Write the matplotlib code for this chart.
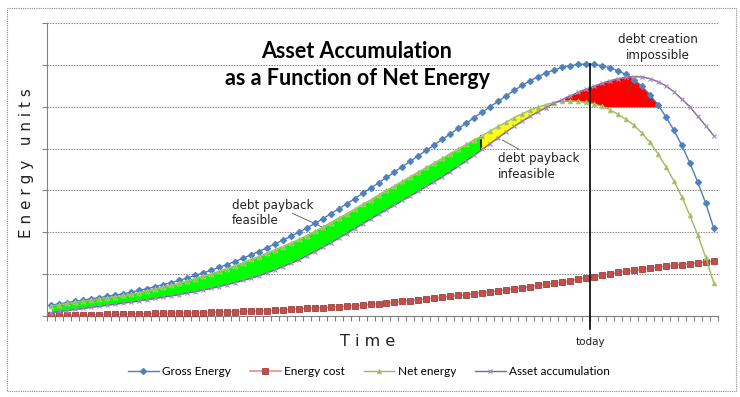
import matplotlib.pyplot as plt
import numpy as np
from matplotlib.patches import Rectangle

# values, in "energy units" (one grid step = 10)
gross_energy = [2.6, 2.9, 3.2, 3.5, 3.8, 4.1, 4.4, 4.7, 5.0, 5.3,
                5.7, 6.1, 6.5, 7.0, 7.5, 8.0, 8.5, 9.1, 9.7, 10.3,
                10.9, 11.6, 12.3, 13.0, 13.8, 14.6, 15.4, 16.3, 17.2, 18.1,
                19.0, 20.0, 21.0, 22.1, 23.2, 24.4, 25.6, 26.8, 28.0, 29.3,
                30.5, 31.8, 33.1, 34.4, 35.7, 37.0, 38.3, 39.6, 40.9, 42.2,
                43.5, 44.8, 46.1, 47.4, 48.7, 50.0, 51.3, 52.6, 53.9, 55.1,
                56.2, 57.2, 58.1, 58.8, 59.4, 59.8, 60.1, 60.2, 60.1, 59.8,
                59.3, 58.6, 57.7, 56.5, 54.9, 52.9, 50.5, 47.6, 44.4, 40.8,
                36.6, 32.0, 26.9, 21.0]
energy_cost = [0.2, 0.2, 0.2, 0.2, 0.2, 0.3, 0.3, 0.4, 0.4, 0.4,
               0.5, 0.5, 0.5, 0.6, 0.6, 0.7, 0.7, 0.7, 0.8, 0.8,
               0.9, 0.9, 1.0, 1.0, 1.1, 1.1, 1.2, 1.3, 1.4, 1.5,
               1.6, 1.7, 1.8, 1.9, 2.0, 2.1, 2.2, 2.4, 2.5, 2.6,
               2.8, 2.9, 3.1, 3.3, 3.5, 3.7, 3.9, 4.1, 4.3, 4.5,
               4.7, 4.9, 5.1, 5.3, 5.6, 5.8, 6.0, 6.3, 6.5, 6.8,
               7.0, 7.3, 7.6, 7.8, 8.1, 8.4, 8.8, 9.1, 9.4, 9.7,
               10.0, 10.4, 10.7, 10.9, 11.2, 11.4, 11.7, 11.9, 12.1, 12.3,
               12.5, 12.7, 12.9, 13.1]
net_energy = [2.4, 2.7, 3.0, 3.3, 3.6, 3.8, 4.1, 4.3, 4.6, 4.9,
              5.2, 5.6, 6.0, 6.4, 6.9, 7.3, 7.8, 8.4, 8.9, 9.5,
              10.0, 10.7, 11.3, 12.0, 12.7, 13.5, 14.2, 15.0, 15.8, 16.6,
              17.4, 18.3, 19.2, 20.2, 21.2, 22.3, 23.4, 24.4, 25.5, 26.7,
              27.7, 28.9, 30.0, 31.1, 32.2, 33.3, 34.4, 35.5, 36.6, 37.7,
              38.8, 39.9, 41.0, 42.1, 43.1, 44.2, 45.3, 46.3, 47.4, 48.3,
              49.2, 49.9, 50.5, 51.0, 51.3, 51.4, 51.3, 51.1, 50.7, 50.1,
              49.3, 48.2, 47.0, 45.6, 43.7, 41.5, 38.8, 35.7, 32.3, 28.5,
              24.1, 19.3, 14.0, 7.9]
asset_accumulation = [0.8, 1.1, 1.3, 1.6, 1.8, 2.1, 2.3, 2.6, 2.8, 3.1,
                      3.3, 3.6, 3.9, 4.2, 4.5, 4.8, 5.1, 5.5, 5.8, 6.2,
                      6.6, 7.0, 7.5, 8.0, 8.5, 9.0, 9.6, 10.3, 11.0, 11.8,
                      12.6, 13.4, 14.4, 15.4, 16.4, 17.5, 18.6, 19.7, 20.9, 22.0,
                      23.2, 24.3, 25.4, 26.5, 27.6, 28.7, 29.8, 31.0, 32.1, 33.3,
                      34.5, 35.8, 37.1, 38.4, 39.8, 41.2, 42.6, 44.0, 45.3, 46.5,
                      47.7, 48.8, 49.8, 50.8, 51.7, 52.6, 53.4, 54.2, 54.9, 55.6,
                      56.2, 56.7, 57.0, 57.2, 57.1, 56.7, 56.0, 55.0, 53.6, 51.8,
                      50.0, 47.7, 45.5, 43.1]

SERIES = ["Gross Energy", "Energy cost", "Net energy", "Asset accumulation"]

TODAY = 67.5          # category boundary where the "today" line sits
PAYBACK_LIMIT = 53.85 # black divider between green and yellow
RED_START = 64.3
RED_FLOOR = 50

GRID = "#808080"
TXT = "#222222"

x = np.arange(len(gross_energy))
gross = np.array(gross_energy)
cost = np.array(energy_cost)
net = np.array(net_energy)
asset = np.array(asset_accumulation)

fig = plt.figure(figsize=(7.4, 3.97), dpi=100)
ax = fig.add_axes([47.3 / 740, 1 - 316 / 397, 670.4 / 740, 293 / 397])

# outer chart border
fig.patches.append(Rectangle((7 / 740, 1 - 391 / 397), 728.5 / 740, 383 / 397,
                             transform=fig.transFigure, fill=False,
                             edgecolor="#8c8c8c", linewidth=0.8,
                             linestyle=(0, (1, 1))))

# shaded regions (fine grid only for drawing the fills)
xf = np.linspace(0, x[-1], 3000)
netf = np.interp(xf, x, net)
assetf = np.interp(xf, x, asset)
grossf = np.interp(xf, x, gross)

ax.fill_between(xf, assetf, netf, where=xf <= PAYBACK_LIMIT,
                color="#00ff00", linewidth=0, zorder=2)
ax.fill_between(xf, assetf, netf, where=(xf >= PAYBACK_LIMIT) & (netf >= assetf),
                color="#ffff00", linewidth=0, zorder=2)
lower = np.maximum(netf, RED_FLOOR)
upper = np.minimum(assetf, grossf)
ax.fill_between(xf, lower, upper, where=(xf >= RED_START) & (upper > lower),
                color="#ff0000", linewidth=0, zorder=2)

ax.plot([PAYBACK_LIMIT] * 2,
        [np.interp(PAYBACK_LIMIT, x, asset), np.interp(PAYBACK_LIMIT, x, net)],
        color="black", linewidth=1.2, zorder=3)

ax.plot(x, gross, color="#4a7ebb", linewidth=1, marker="D", markersize=3,
        markerfacecolor="#4f81bd", markeredgecolor="#4f81bd", label=SERIES[0], zorder=4)
ax.plot(x, cost, color="#e0908e", linewidth=1.2, marker="s", markersize=4.5,
        markerfacecolor="#c0504d", markeredgecolor="#a0403d", markeredgewidth=0.6,
        label=SERIES[1], zorder=4)
ax.plot(x, net, color="#9bbb59", linewidth=1, marker="^", markersize=3.5,
        markerfacecolor="#9bbb59", markeredgecolor="#b5cc88", markeredgewidth=0.5,
        label=SERIES[2], zorder=4)
ax.plot(x, asset, color="#8064a2", linewidth=1, marker="x", markersize=3.5,
        markeredgecolor="#a38cc0", markeredgewidth=0.8, label=SERIES[3], zorder=4)

# today line, runs below the axis
ax.plot([TODAY, TODAY], [-3.1, np.interp(TODAY, x, gross)], color="black",
        linewidth=1.2, clip_on=False, zorder=5)
ax.text(TODAY, -6.1, "today", ha="center", va="center", fontsize=7.5, color=TXT)

# annotations
ann = dict(fontsize=8.6, color=TXT, family="DejaVu Sans", linespacing=1.25)
arrow = dict(arrowstyle="-", color="#555555", linewidth=0.6)
ax.text(22.6, 24.6, "debt payback\nfeasible", ha="left", va="center", **ann)
ax.annotate("", xy=(34.8, 20.5), xytext=(29.9, 24.8), arrowprops=arrow)
ax.text(56.0, 35.7, "debt payback\ninfeasible", ha="left", va="center", **ann)
ax.annotate("", xy=(56.2, 42.4), xytext=(58.9, 39.5), arrowprops=arrow)
ax.text(76.0, 64.1, "debt creation\nimpossible", ha="center", va="center", **ann)
ax.annotate("", xy=(72.0, 53.1), xytext=(73.4, 57.6), arrowprops=arrow)

# title, two lines
title = dict(ha="center", va="center", fontsize=15.5, fontweight="bold",
             family="Lato", color="black")
ax.text(38.2, 63.3, "Asset Accumulation", **title)
ax.text(38.4, 56.7, "as a Function of Net Energy", **title)

# axes
ax.set_xlim(-0.5, x[-1] + 0.5)
ax.set_ylim(0, 70)
ax.set_yticks(np.arange(0, 71, 10))
ax.set_yticklabels([])
ax.set_xticks(np.arange(-0.5, x[-1] + 1, 1))
ax.set_xticklabels([])
ax.tick_params(axis="both", direction="out", length=3.5, width=0.8, color=GRID)
ax.yaxis.grid(True, color=GRID, linestyle=(0, (1.2, 1.2)), linewidth=0.8)
ax.set_axisbelow(True)
for side in ["top", "right"]:
    ax.spines[side].set_visible(False)
for side in ["left", "bottom"]:
    ax.spines[side].set_color(GRID)
    ax.spines[side].set_linewidth(0.8)

fig.text(27 / 740, 1 - 163 / 397, "E n e r g y   u n i t s", rotation=90,
         ha="center", va="center", fontsize=11, color=TXT)
fig.text(368 / 740, 1 - 341 / 397, "T i m e", ha="center", va="center",
         fontsize=11.5, color=TXT)

ax.legend(loc="center", bbox_to_anchor=(0.48, -0.19), ncol=4, frameon=False,
          prop={"family": "Lato", "size": 8.5}, handlelength=2.6,
          columnspacing=1.6, handletextpad=0.3)

fig.savefig("out.png", dpi=100)
